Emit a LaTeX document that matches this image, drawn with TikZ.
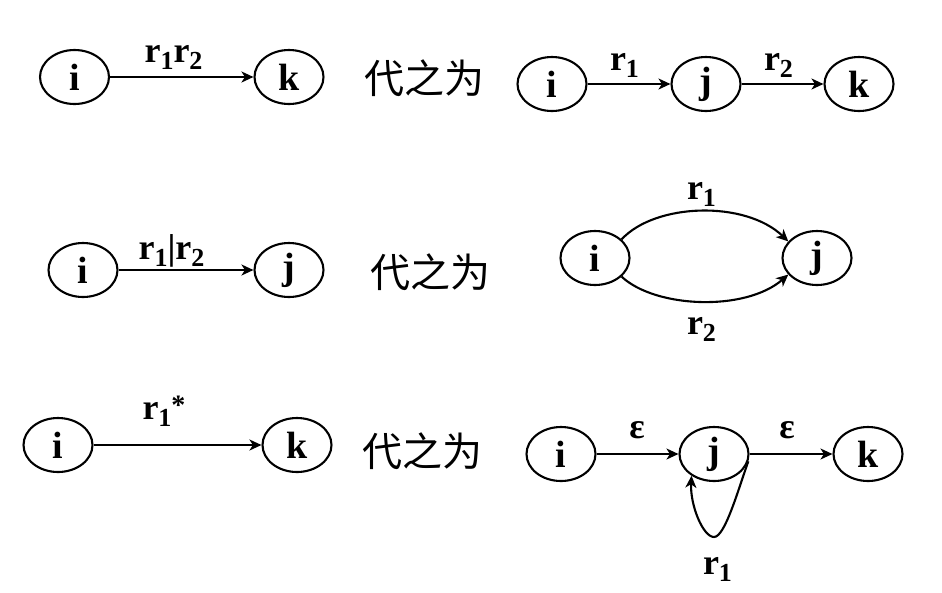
\documentclass[tikz,border=0pt]{standalone}
\usepackage{fontspec}
\setmainfont{Liberation Serif}
\newfontfamily\cjk{Noto Sans CJK SC}
\usetikzlibrary{arrows.meta,shapes.geometric}
\newcommand\sbs[1]{\raisebox{-0.2em}{\fontsize{26}{26}\selectfont #1}}
\newcommand\sps[1]{\raisebox{0.15em}{\fontsize{28}{28}\selectfont #1}}
\tikzset{
  st/.style={draw, ellipse, line width=2.1pt, minimum width=69pt, minimum height=54pt, inner sep=0pt,
    font=\fontsize{38}{40}\selectfont\bfseries},
  lbl/.style={font=\fontsize{36}{38}\selectfont\bfseries, inner sep=0pt, anchor=south},
  cn/.style={font=\fontsize{40}{42}\selectfont\cjk, inner sep=0pt},
  arr/.style={line width=2.1pt, -{Stealth[length=12pt,width=11pt,inset=3.5pt]}},
}
\begin{document}
\begin{tikzpicture}[x=1pt,y=-1pt]
\useasboundingbox (0,0) rectangle (942,592);
% Row 1
\node[st] (a1) at (74.5,77) {i};
\node[st] (a2) at (289,77) {k};
\draw[arr] (a1) -- (a2);
\node[lbl] (la) at (173.5,70) {r\sbs{1}r\sbs{2}};
\node[cn] (ca) at (424,78) {代之为};
\node[st] (b1) at (552,84) {i};
\node[st] (b2) at (706,84) {j};
\node[st] (b3) at (859,84) {k};
\draw[arr] (b1) -- (b2);
\draw[arr] (b2) -- (b3);
\node[lbl] (lb1) at (624.5,78) {r\sbs{1}};
\node[lbl] (lb2) at (778.5,78) {r\sbs{2}};
% Row 2
\node[st] (c1) at (83,270) {i};
\node[st] (c2) at (289,270) {j};
\draw[arr] (c1) -- (c2);
\node[lbl] (lc) at (171.5,267) {r\sbs{1}|r\sbs{2}};
\node[cn] (cc) at (430,272) {代之为};
\node[st] (d1) at (595,258) {i};
\node[st] (d2) at (817,258) {j};
\draw[arr] (d1.35) .. controls (655,203) and (745,200) .. (d2.150);
\draw[arr] (d1.-35) .. controls (655,308) and (745,312) .. (d2.-150);
\node[lbl] (ld1) at (701.5,207) {r\sbs{1}};
\node[lbl] (ld2) at (701.5,342) {r\sbs{2}};
% Row 3
\node[st] (e1) at (58,445) {i};
\node[st] (e2) at (297,445) {k};
\draw[arr] (e1) -- (e2);
\node[lbl] (le) at (164,427) {r\sbs{1}\sps{*}};
\node[cn] (ce) at (422,451) {代之为};
\node[st] (f1) at (561,454) {i};
\node[st] (f2) at (714,454) {j};
\node[st] (f3) at (868,454) {k};
\draw[arr] (f1) -- (f2);
\draw[arr] (f2) -- (f3);
\node[lbl, anchor=center] (lf1) at (637,430) {ε};
\node[lbl, anchor=center] (lf2) at (787,430) {ε};
\draw[arr] (f2.-12) .. controls (738,490) and (725,537) .. (714,537)
  .. controls (703,537) and (690,505) .. (f2.-136);
\node[lbl] (lf3) at (717.5,582) {r\sbs{1}};
\end{tikzpicture}
\end{document}
